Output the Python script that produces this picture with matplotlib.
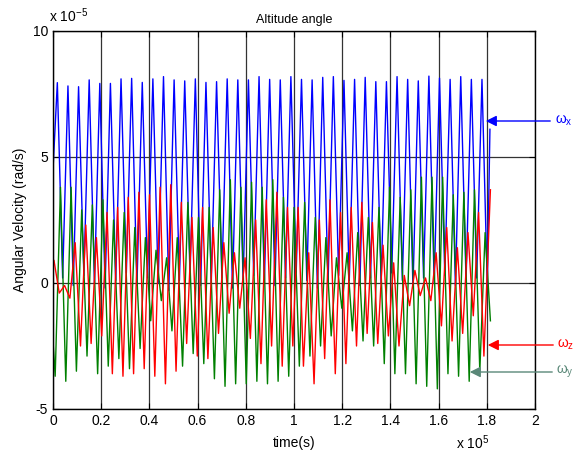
import numpy as np
import matplotlib
matplotlib.use('Agg')
import matplotlib.pyplot as plt

plt.rcParams['font.family'] = ['Liberation Sans', 'DejaVu Sans']
plt.rcParams['mathtext.fontset'] = 'custom'
plt.rcParams['mathtext.rm'] = 'Liberation Sans'

# peaks / troughs, one per half cycle (units of 1e-5 rad/s)
wx_peaks = [7.95, 7.82, 7.79, 8.06, 7.92, 7.92, 8.10, 8.12, 7.96, 8.10, 8.19,
            8.06, 8.02, 8.10, 7.96, 7.99, 8.10, 8.06, 8.06, 8.19, 8.08, 8.06,
            8.19, 8.08, 8.06, 8.16, 8.19, 8.04, 8.08, 8.16, 7.99, 7.99, 8.19,
            8.08, 8.02, 8.21, 8.13, 8.08, 8.19, 8.08, 8.08]
wx_troughs = [0.2, -0.1, 0.3, 0.0, -0.2, 0.1, 0.4, -0.1, 0.2, 0.0, -0.3,
              0.1, 0.3, -0.1, 0.0, 0.2, -0.2, 0.1, 0.3, 0.0, -0.1, 0.2,
              0.4, 0.1, -0.2, 0.0, 0.3, 0.1, -0.1, 0.2, 0.0, 0.4, 0.1,
              -0.2, 0.2, 0.0, 0.3, -0.1, 0.1, 0.2, -0.1]
wx_ends = [4.5, 6.1]          # value at start / at last sample
wx_span = [1800, 180200, 0, 181300]   # first extremum, last extremum, start, end (s)

wz_peaks = [0.9, -0.1, 1.6, 2.3, 1.8, 2.8, 3.0, 3.4, 3.6, 3.5, 3.8, 3.9, 3.2,
            2.6, 3.0, 2.2, 1.6, 1.2, 1.0, 2.5, 3.3, 3.6, 3.0, 3.0, 1.2, 2.5,
            3.3, 2.8, 3.0, 3.2, 2.4, 1.5, 0.8, 0.3, 0.5, 0.2, 1.2, 2.2, 1.4,
            2.0, 2.8]
wz_troughs = [-0.4, -0.6, -2.5, -2.4, -2.1, -3.6, -3.7, -3.6, -3.4, -3.7, -4.0,
              -3.5, -2.4, -2.9, -3.0, -2.0, -1.2, -1.0, -2.2, -3.2, -2.5, -3.3,
              -2.5, -3.3, -4.0, -3.0, -3.6, -3.2, -2.5, -2.0, -2.4, -2.1, -2.5,
              -0.9, -0.5, -0.7, -1.7, -2.3, -2.0, -1.3, -2.9]
wz_ends = [0.9, 3.7]
wz_span = [400, 178800, 0, 181500]

wy_troughs = [-3.7, -3.9, -3.5, -2.9, -3.6, -3.3, -3.0, -3.4, -2.6, -1.5, -0.7,
              -1.9, -3.3, -2.8, -3.2, -3.8, -4.1, -4.0, -4.0, -3.9, -4.0, -3.9,
              -3.7, -3.3, -2.9, -2.5, -2.1, -1.0, -1.9, -2.3, -2.5, -3.2, -3.6,
              -3.6, -4.0, -4.1, -4.2, -3.6, -3.7, -3.9, -3.5]
wy_peaks = [3.8, 3.8, 2.9, 3.1, 3.3, 2.5, 2.8, 2.2, 1.8, 1.3, 1.0, 1.8, 3.2,
            2.6, 3.0, 3.7, 4.1, 3.8, 4.0, 3.8, 4.1, 3.4, 3.0, 3.2, 2.6, 1.8,
            1.0, 1.2, 2.0, 2.6, 3.0, 3.8, 3.4, 3.7, 4.2, 4.2, 4.2, 3.5, 3.6,
            3.7, 2.0]
wy_ends = [-2.3, -1.5]
wy_span = [900, 179300, 0, 181500]


def build(first, second, ends, span):
    vals = np.empty(len(first) * 2)
    vals[0::2] = first
    vals[1::2] = second
    t = np.linspace(span[0], span[1], len(vals))
    t = np.concatenate([[span[2]], t, [span[3]]])
    v = np.concatenate([[ends[0]], vals, [ends[1]]])
    return t, v * 1e-5


t_x, w_x = build(wx_peaks, wx_troughs, wx_ends, wx_span)
t_z, w_z = build(wz_peaks, wz_troughs, wz_ends, wz_span)
t_y, w_y = build(wy_troughs, wy_peaks, wy_ends, wy_span)

fig = plt.figure(figsize=(5.74, 4.59), dpi=100)
ax = fig.add_axes([53 / 574, 50 / 459, 482 / 574, 378 / 459])

ax.plot(t_x, w_x, color='#0000ff', lw=1)
ax.plot(t_y, w_y, color='#008000', lw=1)
ax.plot(t_z, w_z, color='#ff0000', lw=1)

ax.set_xlim(0, 2e5)
ax.set_ylim(-5e-5, 10e-5)
xt = np.arange(0, 2.01e5, 0.2e5)
ax.set_xticks(xt)
ax.set_xticklabels(['0', '0.2', '0.4', '0.6', '0.8', '1', '1.2', '1.4', '1.6', '1.8', '2'])
ax.set_yticks([-5e-5, 0, 5e-5, 10e-5])
ax.set_yticklabels(['-5', '0', '5', '10'])
ax.tick_params(direction='in', top=True, right=True, labelsize=10, length=4)
ax.grid(True, color='#333333', lw=0.9)
for s in ax.spines.values():
    s.set_linewidth(1)

ax.set_title('Altitude angle', fontsize=9, pad=6)
ax.set_xlabel('time(s)', fontsize=10, labelpad=6)
ax.set_ylabel('Angular Velocity (rad/s)', fontsize=10, labelpad=4)

fig.text(49 / 574, 1 - 22 / 459, r'x 10$^{\mathregular{-5}}$', fontsize=10, va='baseline')
fig.text(456 / 574, 1 - 449 / 459, r'x 10$^{\mathregular{5}}$', fontsize=10, va='baseline')

# arrows with labels on the right
arrows = [(553, 121, 483, 121, '#0000ff', r'ω$_{\mathregular{x}}$', 555),
          (556, 345, 485, 345, '#ff0000', r'ω$_{\mathregular{z}}$', 557),
          (555, 372, 467, 372, '#5a8878', r'ω$_{\mathregular{y}}$', 556)]
for x0, y0, x1, y1, c, lab, tx in arrows:
    fig.patches.append(matplotlib.patches.FancyArrowPatch(
        (x0 / 574, 1 - y0 / 459), (x1 / 574, 1 - y1 / 459),
        transform=fig.transFigure, arrowstyle='-|>', mutation_scale=16,
        color=c, lw=1))
    fig.text(tx / 574, 1 - y0 / 459, lab, color=c, fontsize=10, va='center')

fig.savefig('out.png', dpi=100)
